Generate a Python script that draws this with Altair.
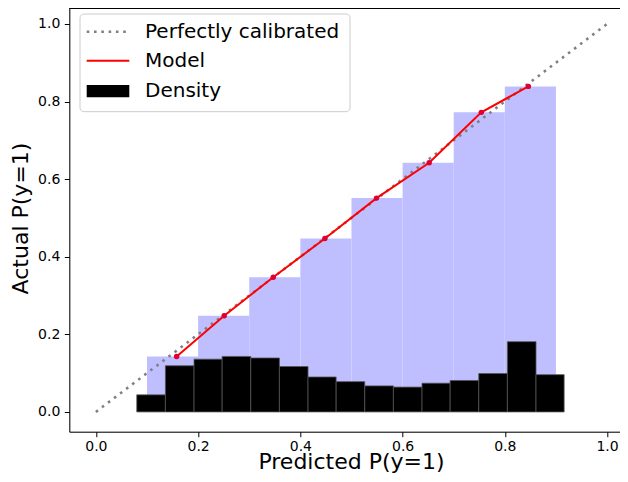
import altair as alt
import pandas as pd

# ---- data ----
cal_left = [0.1, 0.2, 0.3, 0.4, 0.5, 0.6, 0.7, 0.8]
cal_right = [0.2, 0.3, 0.4, 0.5, 0.6, 0.7, 0.8, 0.9]
cal_height = [0.143, 0.248, 0.347, 0.447, 0.551, 0.642, 0.772, 0.839]

model_x = [0.158, 0.251, 0.347, 0.448, 0.549, 0.652, 0.754, 0.846]
model_y = [0.143, 0.248, 0.347, 0.447, 0.551, 0.642, 0.772, 0.839]

dens_edges = [0.080, 0.136, 0.192, 0.247, 0.303, 0.359, 0.415, 0.470,
              0.526, 0.582, 0.638, 0.693, 0.749, 0.805, 0.861, 0.916]
dens_height = [0.044, 0.119, 0.136, 0.143, 0.139, 0.117, 0.090, 0.078,
               0.067, 0.064, 0.074, 0.081, 0.099, 0.181, 0.096]

diag_x = [0.0, 1.0]
diag_y = [0.0, 1.0]

tick_values = [0.0, 0.2, 0.4, 0.6, 0.8, 1.0]
legend_labels = ["Perfectly calibrated", "Model", "Density"]
x_title = "Predicted P(y=1)"
y_title = "Actual P(y=1)"

# ---- tables ----
cal_df = pd.DataFrame({"x0": cal_left, "x1": cal_right, "h": cal_height})
model_df = pd.DataFrame({"x": model_x, "y": model_y})
dens_df = pd.DataFrame({"x0": dens_edges[:-1], "x1": dens_edges[1:], "h": dens_height})
diag_df = pd.DataFrame({"x": diag_x, "y": diag_y})

W, H = 550.7, 423.7
FONT = "DejaVu Sans"
xs = alt.Scale(domain=[-0.052, 1.0253], nice=False, zero=False)
ys = alt.Scale(domain=[-0.051, 1.041], nice=False, zero=False)

x_axis = alt.Axis(values=tick_values, format=".1f", title=x_title, grid=False,
                  tickSize=5, tickWidth=1, tickColor="black", domainColor="black",
                  domainWidth=1, labelPadding=3, labelFontSize=14, labelFont=FONT,
                  labelColor="black", titleFont=FONT, titleFontSize=22,
                  titleFontWeight="normal", titleColor="black",
                  titleX=281.7, titleY=37, titleBaseline="alphabetic", titleAlign="center")
y_axis = alt.Axis(values=tick_values, format=".1f", title=y_title, grid=False,
                  tickSize=5, tickWidth=1, tickColor="black", domainColor="black",
                  domainWidth=1, labelPadding=4.5, labelFontSize=14, labelFont=FONT,
                  labelColor="black", titleFont=FONT, titleFontSize=22,
                  titleFontWeight="normal", titleColor="black",
                  titleX=-49, titleY=210, titleBaseline="middle", titleAlign="center",
                  titleAngle=270)

cal_bars = alt.Chart(cal_df).mark_rect(color="#bfbfff").encode(
    x=alt.X("x0:Q", scale=xs, axis=x_axis),
    x2="x1:Q",
    y=alt.Y("h:Q", scale=ys, axis=y_axis),
    y2=alt.datum(0),
)

dens_bars = alt.Chart(dens_df).mark_rect(color="black", stroke="#555555", strokeWidth=0.8).encode(
    x=alt.X("x0:Q", scale=xs),
    x2="x1:Q",
    y=alt.Y("h:Q", scale=ys),
    y2=alt.datum(0),
)

diag = alt.Chart(diag_df).mark_line(color="#808080", strokeWidth=2.6,
                                    strokeDash=[2.6, 5.0]).encode(
    x=alt.X("x:Q", scale=xs),
    y=alt.Y("y:Q", scale=ys),
)

model_line = alt.Chart(model_df).mark_line(color="red", strokeWidth=2).encode(
    x=alt.X("x:Q", scale=xs),
    y=alt.Y("y:Q", scale=ys),
)
model_pts = alt.Chart(model_df).mark_point(filled=True, color="#dd0030", size=30, opacity=1).encode(
    x=alt.X("x:Q", scale=xs),
    y=alt.Y("y:Q", scale=ys),
)

one = pd.DataFrame({"k": [0]})
top_spine = alt.Chart(one).mark_rule(color="black", strokeWidth=1).encode(
    x=alt.value(0), x2=alt.value(W), y=alt.value(0.5)
)

leg_box = alt.Chart(one).mark_rect(cornerRadius=4, fill="white", fillOpacity=0.8,
                                   stroke="#cccccc", strokeWidth=1).encode(
    x=alt.value(10.7), x2=alt.value(280.7), y=alt.value(6), y2=alt.value(103.7)
)
leg_dot = alt.Chart(one).mark_rule(color="#808080", strokeWidth=2.6, strokeDash=[2.6, 4.7]).encode(
    x=alt.value(17.4), x2=alt.value(60), y=alt.value(23.7)
)
leg_red = alt.Chart(one).mark_rule(color="red", strokeWidth=2).encode(
    x=alt.value(17.4), x2=alt.value(60), y=alt.value(52.7)
)
leg_blk = alt.Chart(one).mark_rect(color="black").encode(
    x=alt.value(17.4), x2=alt.value(60), y=alt.value(77), y2=alt.value(89.3)
)
leg_texts = []
for lab, yy in zip(legend_labels, [23.7, 52.7, 83.0]):
    leg_texts.append(
        alt.Chart(pd.DataFrame({"label": [lab]})).mark_text(
            align="left", baseline="middle", font=FONT, fontSize=20, color="black"
        ).encode(x=alt.value(75.7), y=alt.value(yy), text="label:N")
    )

chart = alt.layer(
    cal_bars, dens_bars, diag, model_line, model_pts, top_spine,
    leg_box, leg_dot, leg_red, leg_blk, *leg_texts
).properties(
    width=W, height=H,
    autosize=alt.AutoSizeParams(type="none"),
    padding={"left": 61.3, "top": 0, "right": 0, "bottom": 42.3},
).configure_view(stroke=None).configure(background="white")

chart.save("out.html", embed_options={"renderer": "svg", "actions": False})
